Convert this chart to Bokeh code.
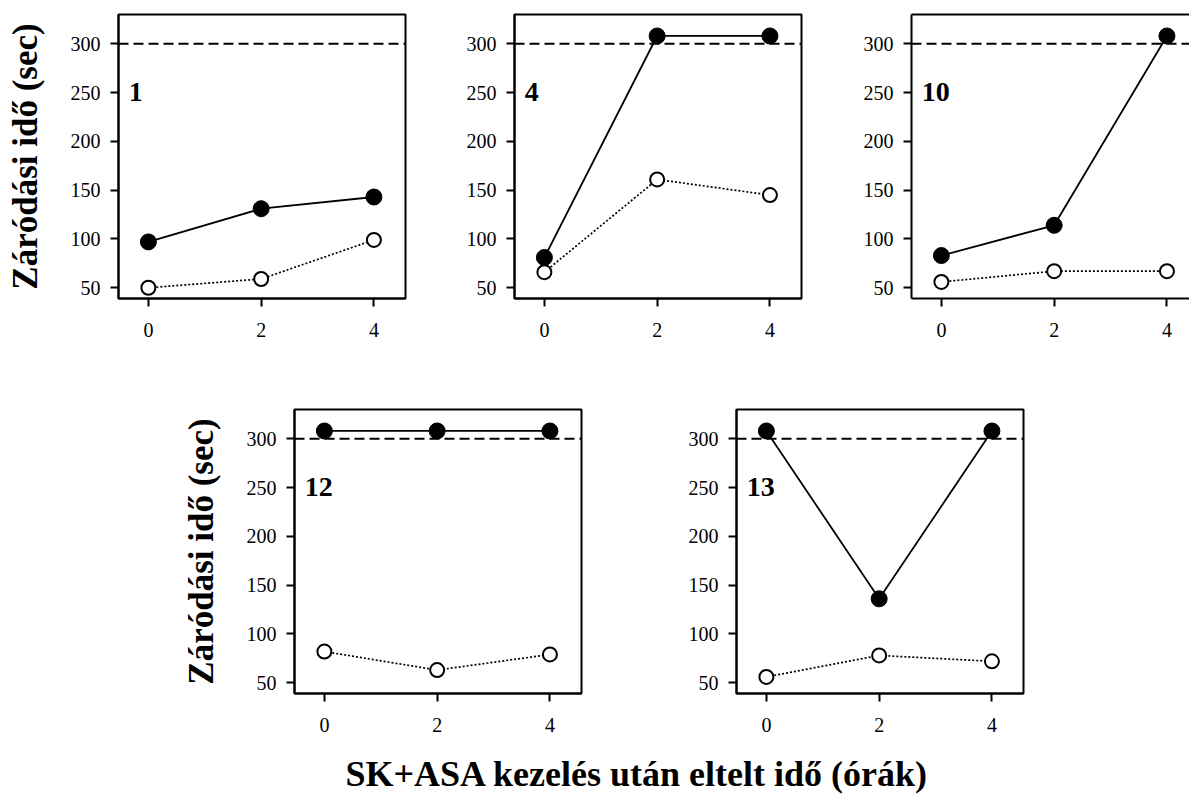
from bokeh.plotting import figure
from bokeh.layouts import column, row
from bokeh.models import Range1d, FixedTicker, Span, Label, LinearAxis
from bokeh.embed import file_html
from bokeh.resources import INLINE

# ---- data ----
hours = [0, 2, 4]
x_ticks = [0, 2, 4]
y_ticks = [50, 100, 150, 200, 250, 300]
threshold = 300
panel_names = ["1", "4", "10", "12", "13"]

p1_filled = [97, 131, 143]
p1_open = [50, 59, 99]
p4_filled = [81, 308, 308]
p4_open = [66, 161, 145]
p10_filled = [83, 114, 308]
p10_open = [56, 67, 67]
p12_filled = [308, 308, 308]
p12_open = [82, 63, 79]
p13_filled = [308, 136, 308]
p13_open = [56, 78, 72]

y_title = "Záródási idő (sec)"
x_title = "SK+ASA kezelés után eltelt idő (órák)"

FONT = "Liberation Serif"


def make_panel(name, filled, opened, left, right, top, bottom, frame_w, x_end,
               ylabel=None, open_right=False):
    p = figure(frame_width=frame_w, frame_height=284,
               min_border_left=left, min_border_right=right,
               min_border_top=top, min_border_bottom=bottom,
               x_range=Range1d(-0.53, x_end), y_range=Range1d(39, 330),
               output_backend="svg", toolbar_location=None, tools="")
    p.xgrid.visible = False
    p.ygrid.visible = False
    p.background_fill_color = "white"
    p.border_fill_color = "white"

    xa = p.below[0]
    ya = p.left[0]
    xa.ticker = FixedTicker(ticks=x_ticks)
    ya.ticker = FixedTicker(ticks=y_ticks)
    for ax in [xa, ya]:
        ax.axis_line_width = 2
        ax.axis_line_color = "black"
        ax.major_tick_line_width = 2
        ax.major_tick_line_color = "black"
        ax.major_tick_out = 8
        ax.major_tick_in = 0
        ax.minor_tick_line_color = None
        ax.major_label_text_font = FONT
        ax.major_label_text_font_size = "20px"
        ax.major_label_text_color = "black"
    xa.major_label_standoff = 16
    ya.major_label_standoff = 10
    if ylabel:
        ya.axis_label = ylabel
        ya.axis_label_text_font = FONT
        ya.axis_label_text_font_size = "35px"
        ya.axis_label_text_font_style = "bold"
        ya.axis_label_text_color = "black"
        ya.axis_label_standoff = 23

    if open_right:
        p.outline_line_color = None
        top_ax = LinearAxis(ticker=FixedTicker(ticks=[]), major_tick_out=0,
                            major_tick_in=0, major_label_standoff=0,
                            major_label_text_font_size="0px",
                            axis_line_width=2, axis_line_color="black",
                            minor_tick_line_color=None)
        p.add_layout(top_ax, "above")
    else:
        p.outline_line_color = "black"
        p.outline_line_width = 2
        p.outline_line_alpha = 1.0

    p.add_layout(Span(location=threshold, dimension="width", line_color="black",
                      line_width=2, line_dash="10 5"))

    p.line(hours, opened, line_color="black", line_width=1.7, line_dash="2 2")
    p.line(hours, filled, line_color="black", line_width=1.8)
    p.scatter(hours, filled, size=16, fill_color="black", line_color="black")
    p.scatter(hours, opened, size=14, fill_color="white", line_color="black",
              line_width=2)

    p.add_layout(Label(x=-0.35, y=251, text=name, text_font=FONT,
                       text_font_style="bold", text_font_size="28px",
                       text_color="black", text_baseline="alphabetic"))
    return p


f1 = make_panel(panel_names[0], p1_filled, p1_open, 118, 5, 14, 50, 287, 4.56, ylabel=y_title)
f2 = make_panel(panel_names[1], p4_filled, p4_open, 104, 5, 14, 50, 287, 4.56)
f3 = make_panel(panel_names[2], p10_filled, p10_open, 105, 0, 14, 50, 278, 4.40, open_right=True)
f4 = make_panel(panel_names[3], p12_filled, p12_open, 294, 5, 61, 50, 287, 4.56, ylabel=y_title)
f5 = make_panel(panel_names[4], p13_filled, p13_open, 150, 5, 61, 50, 287, 4.56)

ft = figure(width=1189, height=54, x_range=Range1d(0, 1189), y_range=Range1d(0, 54),
            min_border=0, output_backend="svg", toolbar_location=None, tools="")
ft.axis.visible = False
ft.grid.visible = False
ft.outline_line_color = None
ft.add_layout(Label(x=345, y=24, text=x_title, text_font=FONT, text_font_style="bold",
                    text_font_size="36px", text_color="black", text_align="left",
                    text_baseline="alphabetic"))

layout = column(row(f1, f2, f3, spacing=0), row(f4, f5, spacing=0), ft, spacing=0)

open("out.html", "w").write(file_html(layout, INLINE))
